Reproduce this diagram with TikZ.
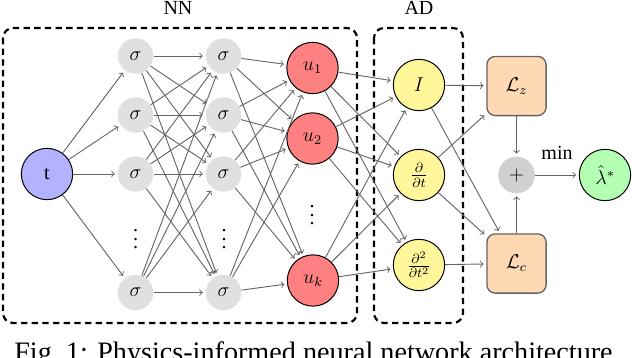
\documentclass[tikz,border=0pt]{standalone}
\usepackage[no-math]{fontspec}
\setmainfont{Liberation Serif}
\usepackage{amsmath}
\usetikzlibrary{arrows}
\definecolor{tblue}{rgb}{0.70,0.70,1.00}
\definecolor{ured}{rgb}{1.00,0.50,0.50}
\definecolor{adyel}{RGB}{255,247,153}
\definecolor{lorange}{RGB}{255,217,179}
\definecolor{lgreen}{RGB}{179,255,179}
\definecolor{sgray}{RGB}{224,224,224}
\definecolor{pgray}{RGB}{208,208,208}
\definecolor{agray}{RGB}{100,100,100}
\newcommand{\myvdots}{\vbox{\baselineskip5.1pt\lineskiplimit0pt\hbox{.}\hbox{.}\hbox{.}}}
\begin{document}
\begin{tikzpicture}[x=0.6pt,y=-0.6pt,
  every node/.style={font=\fontsize{12pt}{14pt}\selectfont},
  neuron/.style={circle,fill=sgray,minimum size=21.3pt,inner sep=0pt},
  bignode/.style={circle,draw=black,semithick,minimum size=30.8pt,inner sep=0pt},
  lossbox/.style={rectangle,rounded corners=5pt,draw=agray,thick,fill=lorange,minimum size=35.5pt,inner sep=0pt},
  conn/.style={->,draw=agray,line width=0.55pt,shorten >=1.6pt},
  groupbox/.style={draw=black,line width=1.3pt,dash pattern=on 3.8pt off 2.6pt,rounded corners=6pt},
  dotsnode/.style={inner sep=0pt}
]
\useasboundingbox (0,0) rectangle (632,358);
% group boxes
\draw[groupbox] (3,28) rectangle (357,323);
\draw[groupbox] (374,28) rectangle (463,323);
\node (nnlab) at (178,8) {NN};
\node (adlab) at (419,8) {AD};
% input
\node[bignode,fill=tblue] (t) at (47,174) {t};
% hidden layer 1
\node[neuron] (a1) at (135.5,56) {$\sigma$};
\node[neuron] (a2) at (135.5,115) {$\sigma$};
\node[neuron] (a3) at (135.5,174) {$\sigma$};
\node[neuron] (a4) at (135.5,292.5) {$\sigma$};
\node[dotsnode] (ad) at (135.5,239.5) {\myvdots};
% hidden layer 2
\node[neuron] (b1) at (223.5,56) {$\sigma$};
\node[neuron] (b2) at (223.5,115) {$\sigma$};
\node[neuron] (b3) at (223.5,174) {$\sigma$};
\node[neuron] (b4) at (223.5,292.5) {$\sigma$};
\node[dotsnode] (bd) at (224,239.5) {\myvdots};
% outputs
\node[bignode,fill=ured] (u1) at (312.5,68) {$u_1$};
\node[bignode,fill=ured] (u2) at (312.5,138.5) {$u_2$};
\node[bignode,fill=ured] (uk) at (313,280.5) {$u_k$};
\node[dotsnode] (ud) at (312,215.5) {\myvdots};
% AD
\node[bignode,fill=adyel] (I) at (419,85) {$I$};
\node[bignode,fill=adyel] (dt) at (419,175) {$\frac{\partial}{\partial t}$};
\node[bignode,fill=adyel] (dtt) at (419,265) {$\frac{\partial^2}{\partial t^2}$};
% losses
\node[lossbox] (Lz) at (516.5,86) {$\mathcal{L}_z$};
\node[lossbox] (Lc) at (516.5,263.5) {$\mathcal{L}_c$};
\node[circle,fill=pgray,minimum size=22pt,inner sep=0pt] (plus) at (516.5,175) {$+$};
\node[bignode,fill=lgreen] (lam) at (605,175) {$\hat{\lambda}^*$};
% connections
\foreach \j in {a1,a2,a3,a4} \draw[conn] (t) -- (\j);
\foreach \i in {a1,a2,a3,a4} \foreach \j in {b1,b2,b3,b4} \draw[conn] (\i) -- (\j);
\foreach \i in {b1,b2,b3,b4} \foreach \j in {u1,u2,uk} \draw[conn] (\i) -- (\j);
\foreach \i in {u1,u2,uk} \foreach \j in {I,dt,dtt} \draw[conn] (\i) -- (\j);
\draw[conn] (I) -- (Lz);
\draw[conn] (I) -- (Lc);
\draw[conn] (dt) -- (Lz);
\draw[conn] (dt) -- (Lc);
\draw[conn] (dtt) -- (Lc);
\draw[conn] (Lz) -- (plus);
\draw[conn] (Lc) -- (plus);
\draw[conn] (plus) -- (lam);
\node[inner sep=0pt] (minlab) at (557,153) {min};
% caption (cut off at the bottom, as in the reference)
\node[anchor=base,inner sep=0pt,font=\fontsize{16.9pt}{20pt}\selectfont] (cap) at (313.5,361) {Fig.~1: Physics-informed neural network architecture};
\end{tikzpicture}
\end{document}
